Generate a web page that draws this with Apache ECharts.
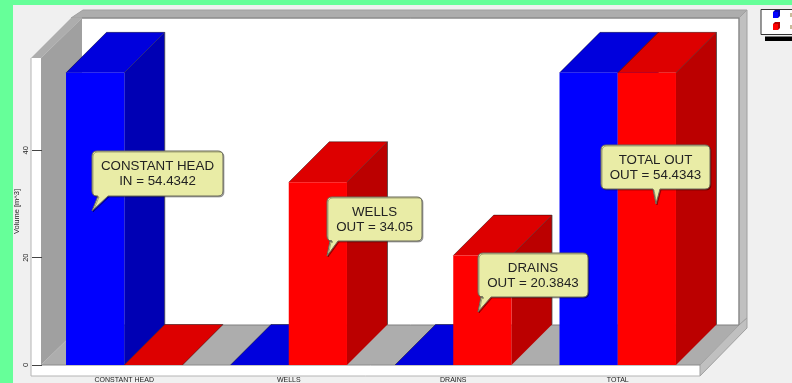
<!DOCTYPE html>
<html><head><meta charset="utf-8">
<style>html,body{margin:0;padding:0;background:#66ff99;overflow:hidden}#c{width:792px;height:383px}</style>
<script src="https://cdn.jsdelivr.net/npm/echarts@6/dist/echarts.min.js"></script>
</head><body><div id="c"></div>
<script>
const categories = ['CONSTANT HEAD','WELLS','DRAINS','TOTAL'];
const inValues = [54.4342, 0, 0, 54.4342];
const outValues = [0, 34.05, 20.3843, 54.4343];
const yTicks = [0, 20, 40];
const calloutLabels = [
  ['CONSTANT HEAD','IN = 54.4342'],
  ['WELLS','OUT = 34.05'],
  ['DRAINS','OUT = 20.3843'],
  ['TOTAL OUT','OUT = 54.4343']
];
const calloutBoxes = [
  {x:92,y:151,w:131,h:45,tip:[92,211],base:[98,108]},
  {x:327,y:197,w:95,h:44,tip:[327,256],base:[330,338]},
  {x:478,y:253,w:110,h:44,tip:[478,312],base:[481,491]},
  {x:601,y:145,w:109,h:44,tip:[656,204],base:[653,660]}
];
const DEPTH = 40.5;
const GROUP = 0.708;
const poly = (pts, fill, stroke) => ({type:'polygon',silent:true,shape:{points:pts},style:{fill,stroke:stroke||null,lineWidth:1}});
const rect = (x,y,w,h,fill,stroke) => ({type:'rect',silent:true,shape:{x,y,width:w,height:h},style:{fill,stroke:stroke||null,lineWidth:1}});
const seg = (pts, stroke) => ({type:'polyline',silent:true,shape:{points:pts},style:{fill:null,stroke,lineWidth:1}});
const chrome = [
  rect(13,5,779,378,'#f0f0f0'),
  rect(82,18,657,307,'#ffffff'),
  poly([[71,18],[83,10],[747,10],[739,18]],'#adadad','#a0a0a0'),
  poly([[739,18],[747,10],[747,318],[739,325]],'#c0c0c0','#a0a0a0'),
  poly([[31,58],[41,58],[82,18],[71,18]],'#adadad'),
  poly([[41,58],[82,18],[82,325],[41,365]],'#a0a0a0'),
  poly([[41,365],[82,325],[739,325],[700,365]],'#adadad'),
  rect(31,58,10,318,'#ffffff'),
  rect(31,365,669,11,'#ffffff'),
  poly([[700,365],[739,325],[747,318],[747,328],[700,376]],'#c0c0c0','#a0a0a0'),
  seg([[31,58],[31,376],[700,376]],'#b4b4b4'),
  seg([[41,365],[700,365]],'#8a8a8a'),
  seg([[82,325],[739,325]],'#808080'),
  seg([[82,18],[739,18]],'#808080'),
  seg([[739,18],[739,325]],'#808080'),
  // legend
  rect(761,9.5,40,25,'#ffffff','#333333'),
  rect(765,36.5,27,4.5,'#000000'),
  poly([[773,12],[775,10],[780,10],[780,16],[778,18],[773,18]],'#0000b4'),
  rect(773,12,5,6,'#0000ff'),
  poly([[773,24],[775,22],[780,22],[780,28],[778,30],[773,30]],'#b40000'),
  rect(773,24,5,6,'#ff0000'),
  rect(790,13,2,4,'#c8bb9a'),
  rect(790,25,2,4,'#c8bb9a')
];
function barItem(side, colors) {
  return function (params, api) {
    const i = api.value(0), v = api.value(1);
    const band = api.size([1,0])[0];
    const c = api.coord([i, v]);
    const base = api.coord([i, 0]);
    const w = band * GROUP / 2;
    const x0 = side === 0 ? c[0] - w : c[0];
    const x1 = x0 + w;
    const t = c[1], b = base[1], d = DEPTH;
    const children = [];
    if (v > 0) children.push(poly([[x1,t],[x1+d,t-d],[x1+d,b-d],[x1,b]], colors[2]));
    children.push(poly([[x0,t],[x0+d,t-d],[x1+d,t-d],[x1,t]], colors[1]));
    children.push(seg([[x0,t],[x0+d,t-d],[x1+d,t-d],[x1,t]], 'rgba(0,0,0,0.4)'));
    if (v > 0) {
      children.push(seg([[x1+d,t-d],[x1+d,b-d]], 'rgba(70,70,70,0.8)'));
      children.push(rect(x0,t,w,b-t,colors[0]));
    }
    return {type:'group',children};
  };
}
function calloutItem(params, api) {
  const i = params.dataIndex, b = calloutBoxes[i], l = calloutLabels[i];
  const r = 5, X = b.x, Y = b.y, R = b.x+b.w, B = b.y+b.h;
  const path = `M${X+r} ${Y}L${R-r} ${Y}Q${R} ${Y} ${R} ${Y+r}L${R} ${B-r}Q${R} ${B} ${R-r} ${B}L${b.base[1]} ${B}L${b.tip[0]} ${b.tip[1]}L${b.base[0]} ${B}L${X+r} ${B}Q${X} ${B} ${X} ${B-r}L${X} ${Y+r}Q${X} ${Y} ${X+r} ${Y}Z`;
  const font = '13.33px "Liberation Sans", Arial, sans-serif';
  return {type:'group',children:[
    {type:'path',silent:true,shape:{pathData:path,layout:'cover',x:X,y:Y,width:b.w,height:b.tip[1]-Y},
     style:{fill:'#e9eca6',stroke:'#6a6a5a',lineWidth:1,shadowColor:'rgba(0,0,0,0.3)',shadowOffsetX:1,shadowOffsetY:1,shadowBlur:0}},
    {type:'text',silent:true,x:X+b.w/2,y:Y+15.5,style:{text:l[0],fill:'#222222',font,align:'center',verticalAlign:'middle'}},
    {type:'text',silent:true,x:X+b.w/2,y:Y+30.5,style:{text:l[1],fill:'#222222',font,align:'center',verticalAlign:'middle'}}
  ]};
}
const chart = echarts.init(document.getElementById('c'), null, {renderer:'canvas'});
chart.setOption({
  animation:false,
  backgroundColor:'#66ff99',
  graphic:{elements:chrome.map(e=>Object.assign(e,{z:0})),z:0},
  grid:{left:42,right:92,top:58,bottom:18,outerBoundsMode:'none'},
  xAxis:{type:'category',data:categories,z:3,
    axisLine:{show:false},axisTick:{show:false},
    axisLabel:{fontSize:7,color:'#222222',margin:12,fontFamily:'"Liberation Sans", Arial, sans-serif',interval:0}},
  yAxis:{type:'value',min:0,max:57.2,interval:20,z:3,
    name:'Volume [m^3]',nameLocation:'middle',nameGap:21,nameRotate:90,nameMoveOverlap:false,
    nameTextStyle:{fontSize:7.5,color:'#222222',fontFamily:'"Liberation Sans", Arial, sans-serif'},
    splitLine:{show:false},axisLine:{show:false},
    axisTick:{show:true,length:10,lineStyle:{color:'#444444',width:1},customValues:yTicks},
    axisLabel:{rotate:90,fontSize:7.5,color:'#222222',margin:12,fontFamily:'"Liberation Sans", Arial, sans-serif',customValues:yTicks}},
  series:[
    {type:'custom',name:'IN',z:5,coordinateSystem:'cartesian2d',clip:false,renderItem:barItem(0,['#0000ff','#0000dd','#0000b4']),encode:{x:0,y:1},
      data:inValues.map((v,i)=>[i,v])},
    {type:'custom',name:'OUT',z:6,coordinateSystem:'cartesian2d',clip:false,renderItem:barItem(1,['#ff0000','#dd0000','#bb0000']),encode:{x:0,y:1},
      data:outValues.map((v,i)=>[i,v])},
    {type:'custom',name:'callouts',z:10,coordinateSystem:'none',clip:false,silent:true,renderItem:calloutItem,
      data:calloutLabels.map((l,i)=>i)}
  ]
});
</script></body></html>
